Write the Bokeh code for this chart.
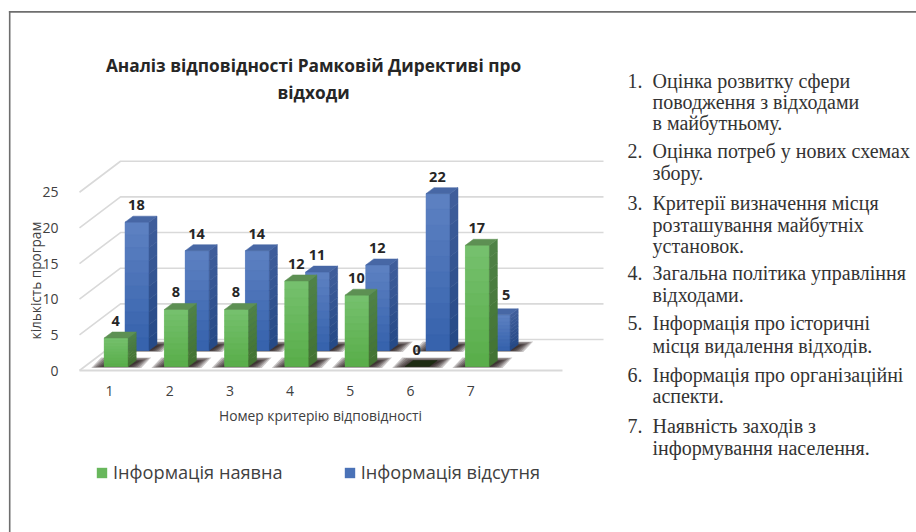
from bokeh.plotting import figure
from bokeh.embed import file_html
from bokeh.resources import INLINE
from bokeh.models import FixedTicker, Label, Legend, LegendItem, BoxAnnotation
from bokeh.core.properties import value

# ---- data ----
criteria = [1, 2, 3, 4, 5, 6, 7]
present = [4, 8, 8, 12, 10, 0, 17]      # Інформація наявна
absent = [18, 14, 14, 11, 12, 22, 5]    # Інформація відсутня
y_ticks = [0, 5, 10, 15, 20, 25]
title_lines = ["Аналіз відповідності Рамковій Директиві про", "відходи"]
x_title = "Номер критерію відповідності"
y_title = "кількість програм"
series_names = ["Інформація наявна", "Інформація відсутня"]
notes = [
    ("1.", ["Оцінка розвитку сфери", "поводження з відходами", "в майбутньому."]),
    ("2.", ["Оцінка потреб у нових схемах", "збору."]),
    ("3.", ["Критерії визначення місця", "розташування майбутніх", "установок."]),
    ("4.", ["Загальна політика управління", "відходами."]),
    ("5.", ["Інформація про історичні", "місця видалення відходів."]),
    ("6.", ["Інформація про організаційні", "аспекти."]),
    ("7.", ["Наявність заходів з", "інформування населення."]),
]
note_line_y = [80.5, 101.5, 122.5, 150, 172.5, 202.5, 224.5, 245.5, 272.5, 294.5, 322.5, 345.5, 374.5, 395.5, 425.5, 447.5]

# ---- geometry: page pixels per data unit ----
PX_X = 60.2
PX_Y = 7.13
W, H = 916, 532
X0_PX, Y0_PX = 109, 370


def X(px):
    return 1 + (px - X0_PX) / PX_X


def Y(py):
    return (Y0_PX - py) / PX_Y


def dX(px):
    return px / PX_X


def dY(px):
    return px / PX_Y


p = figure(width=W, height=H, output_backend="svg", toolbar_location=None,
           x_range=(X(0), X(W)), y_range=(Y(H), Y(0)),
           min_border_left=0, min_border_right=0, min_border_top=0, min_border_bottom=0,
           background_fill_color="white", border_fill_color="white", outline_line_color=None)
p.grid.visible = False

# axes
for ax, ticks in ((p.xaxis[0], criteria), (p.yaxis[0], y_ticks)):
    ax.ticker = FixedTicker(ticks=ticks)
    ax.axis_line_color = None
    ax.major_tick_line_color = None
    ax.minor_tick_line_color = None
    ax.major_label_text_font = "Open Sans"
    ax.major_label_text_font_size = "14px"
    ax.major_label_text_color = "#404040"
p.xaxis[0].fixed_location = Y(372)
p.yaxis[0].fixed_location = X(76)
p.xaxis[0].major_label_standoff = 7
p.yaxis[0].major_label_standoff = 12

# wall and floor lines
depth_x, depth_y = dX(41), dY(31)
grid_left, grid_right = X(79), X(562)
wall_xs = [[grid_left, grid_left + depth_x, grid_right + depth_x] for _ in y_ticks]
wall_ys = [[t, t + depth_y, t + depth_y] for t in y_ticks]
p.multi_line(wall_xs, wall_ys, line_color="#d9d9d9", line_width=1.6)
p.line([grid_left, grid_right], [0, 0], line_color="#d9d9d9", line_width=2)

# bar geometry
side_dx, side_dy = dX(8), dY(6)
bar_w = dX(24)
rows = {
    "green": dict(vals=present, cx=dX(6.7), base=dY(4),
                  front=("#75c06d", "#5aae4b"), side=("#4f8246", "#437333"), top="#5d9053"),
    "blue": dict(vals=absent, cx=dX(27.5), base=dY(20),
                 front=("#5c80c1", "#3763ad"), side=("#3f5d9a", "#264a87"), top="#4767a5"),
}


def mix(a, b, t):
    ca = [int(a[i:i + 2], 16) for i in (1, 3, 5)]
    cb = [int(b[i:i + 2], 16) for i in (1, 3, 5)]
    return "#%02x%02x%02x" % tuple(round(u + (v - u) * t) for u, v in zip(ca, cb))


# shadows on the floor, blurred by stacking translucent shapes
def shadows(row, layers):
    xs, ys = [], []
    for c in criteria:
        cx = c + row["cx"]
        b = row["base"]
        left, right = cx - bar_w / 2, cx + bar_w / 2
        for grow_x, grow_up, grow_dn in layers:
            xs.append([left - dX(grow_x), left - dX(grow_x) + dX(10),
                       right + dX(grow_x) + dX(10), right + dX(grow_x)])
            ys.append([b - dY(grow_dn), b + dY(grow_up), b + dY(grow_up), b - dY(grow_dn)])
    return xs, ys


shadow_layers = [(13, 9, 1.4), (11, 8.5, 1.1), (9, 8, 0.8),
                 (7, 7, 0.6), (5, 6.5, 0.4), (3, 6, 0.2), (1, 5, 0)]
for key in ("blue", "green"):
    sx, sy = shadows(rows[key], shadow_layers)
    p.patches(sx, sy, fill_color="#1c0f0f", fill_alpha=0.24, line_color=None)


def draw_row(row):
    vals = row["vals"]
    lefts = [c + row["cx"] - bar_w / 2 for c in criteria]
    rights = [c + row["cx"] + bar_w / 2 for c in criteria]
    b = row["base"]
    tops = [b + v for v in vals]
    base = p.quad(left=lefts, right=rights, bottom=[b] * len(vals), top=tops,
                  fill_color=mix(row["front"][0], row["front"][1], 0.5), line_color=None)
    # vertical shading in bands
    n = 10
    bl, br, bb, bt, bc = [], [], [], [], []
    sxs, sys_, sc = [], [], []
    for l, r, t, v in zip(lefts, rights, tops, vals):
        if v == 0:
            continue
        for k in range(n):
            hi = t - v * k / n
            lo = t - v * (k + 1) / n
            bl.append(l); br.append(r); bb.append(lo); bt.append(hi)
            bc.append(mix(row["front"][0], row["front"][1], k / (n - 1)))
            sxs.append([r, r + side_dx, r + side_dx, r])
            sys_.append([lo, lo + side_dy, hi + side_dy, hi])
            sc.append(mix(row["side"][0], row["side"][1], k / (n - 1)))
    p.quad(left=bl, right=br, bottom=bb, top=bt, fill_color=bc, line_color=bc, line_width=0.5)
    p.patches(sxs, sys_, fill_color=sc, line_color=sc, line_width=0.5)
    txs = [[l, l + side_dx, r + side_dx, r] for l, r in zip(lefts, rights)]
    tys = [[t, t + side_dy, t + side_dy, t] for t in tops]
    tc = [row["top"] if v else "#1d2b12" for v in vals]
    p.patches(txs, tys, fill_color=tc, line_color=tc, line_width=0.5)
    return base


blue_bars = draw_row(rows["blue"])
green_bars = draw_row(rows["green"])

# value labels
label_gap = dY(17)
for key in ("blue", "green"):
    row = rows[key]
    lx = [c + row["cx"] - dX(0.6) for c in criteria]
    ly = [row["base"] + v + label_gap for v in row["vals"]]
    if key == "blue":
        lx[6] += dX(8.5)
        ly[6] += dY(3)
    p.text(lx, ly, text=[str(v) for v in row["vals"]], text_font=value("Open Sans"),
           text_font_style="bold", text_font_size="14.5px", text_color="#262626",
           text_align="center", text_baseline="middle")


def add_label(text, px, py, **kw):
    opts = dict(text_font="Open Sans", text_font_size="13px", text_color="#404040",
                text_align="left", text_baseline="middle")
    opts.update(kw)
    p.add_layout(Label(x=X(px), y=Y(py), text=text, **opts))


# titles
for line, py in zip(title_lines, (65, 92)):
    add_label(line, 313, py, text_font_style="bold", text_font_size="17.3px",
              text_align="center", text_color="#262626")
add_label(x_title, 320, 415, text_align="center", text_font_size="13.8px", text_color="#404040")
add_label(y_title, 35, 280, text_align="center", text_font_size="13.6px", angle=1.5708,
          text_color="#404040")

# numbered list at the right
idx = 0
for number, lines in notes:
    add_label(number, 627, note_line_y[idx], text_font="Liberation Serif",
              text_font_size="20px", text_color="#333333")
    for line in lines:
        add_label(line, 652, note_line_y[idx], text_font="Liberation Serif",
                  text_font_size="20px", text_color="#333333")
        idx += 1

# frame: top and left rules only
p.add_layout(BoxAnnotation(left=X(8.4), right=X(916), top=Y(10.6), bottom=Y(12.2),
                           fill_color="#6e6e6e", fill_alpha=1, line_color=None))
p.add_layout(BoxAnnotation(left=X(8.4), right=X(10), top=Y(10.6), bottom=Y(532),
                           fill_color="#6e6e6e", fill_alpha=1, line_color=None))

# legend
legend = Legend(items=[LegendItem(label=series_names[0], renderers=[green_bars]),
                       LegendItem(label=series_names[1], renderers=[blue_bars])],
                orientation="horizontal", location=(95, 48), border_line_color=None,
                background_fill_alpha=0, glyph_width=13, glyph_height=13, spacing=60,
                label_text_font="Open Sans", label_text_font_size="18.2px",
                label_text_color="#404040", label_standoff=5, padding=0, margin=0)
p.add_layout(legend)

open("out.html", "w").write(file_html(p, INLINE))
